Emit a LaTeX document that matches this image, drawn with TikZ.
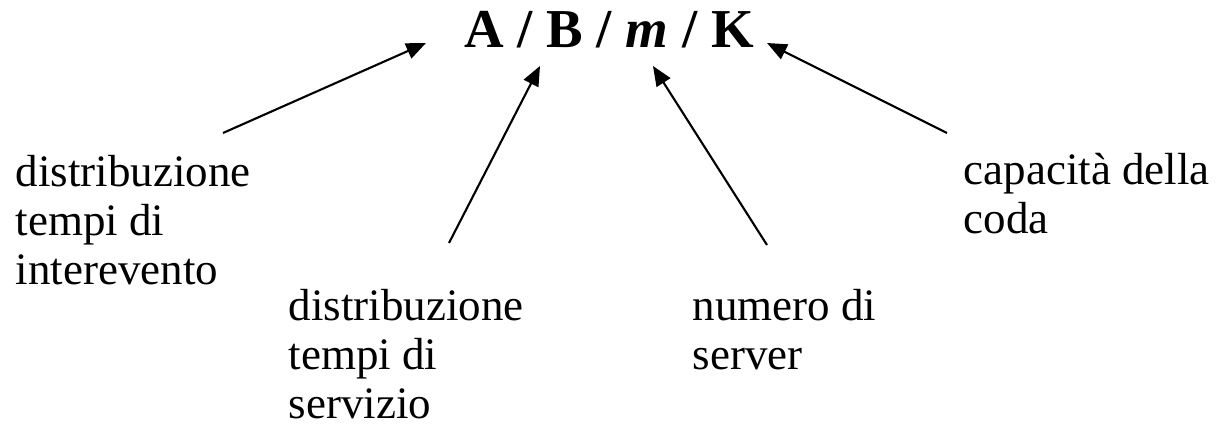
\documentclass[tikz,border=0pt]{standalone}
\usepackage{fontspec}
\setmainfont{Liberation Serif}
\usepackage{tikz}
\usetikzlibrary{arrows.meta}

\tikzset{
    lbl/.style={anchor=north west, inner sep=0pt, align=left,
        font=\fontsize{12.8pt}{13.9pt}\selectfont},
    pointer/.style={-{Triangle[length=5.6pt,width=4.6pt]}, line width=0.6pt}
}

\begin{document}
\begin{tikzpicture}
        \useasboundingbox (0,0) rectangle (12.17,4.27);

        % notation
        \node[anchor=base, inner sep=0pt, font=\fontsize{15.6pt}{18pt}\selectfont\bfseries]
            (kendall) at (6.09,3.79) {A / B / \textit{m} / K};

        % descriptions
        \node[lbl] (arr) at (0.15,2.72) {distribuzione\\tempi di\\interevento};
        \node[lbl] (srv) at (2.88,1.38) {distribuzione\\tempi di\\servizio};
        \node[lbl] (num) at (6.92,1.38) {numero di\\server};
        \node[lbl] (cap) at (9.63,2.74) {capacità della\\coda};

        % arrow ends
        \coordinate (arrT) at (2.23,2.94);
        \coordinate (arrH) at (4.26,3.84);
        \coordinate (srvT) at (4.49,1.84);
        \coordinate (srvH) at (5.40,3.61);
        \coordinate (numT) at (7.67,1.82);
        \coordinate (numH) at (6.53,3.61);
        \coordinate (capT) at (9.47,2.94);
        \coordinate (capH) at (7.67,3.84);

        \draw[pointer] (arrT) -- (arrH);
        \draw[pointer] (srvT) -- (srvH);
        \draw[pointer] (numT) -- (numH);
        \draw[pointer] (capT) -- (capH);
    \end{tikzpicture}
\end{document}
